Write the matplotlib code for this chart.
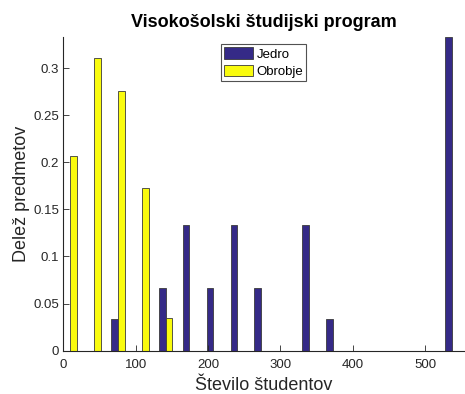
import matplotlib
matplotlib.use("Agg")
import matplotlib.pyplot as plt
import numpy as np

plt.rcParams['font.family'] = ['Liberation Sans', 'DejaVu Sans']

# Histogram bin centres (number of students) and shares of courses per bin
bin_centers = [9.6, 42.6, 75.6, 108.6, 141.6, 174.6, 207.6, 240.6, 273.6,
               306.6, 339.6, 372.6, 405.6, 438.6, 471.6, 504.6, 537.6]
jedro = [0, 0, 1/30, 0, 2/30, 4/30, 2/30, 4/30, 2/30,
         0, 4/30, 1/30, 0, 0, 0, 0, 10/30]
obrobje = [6/29, 9/29, 8/29, 5/29, 1/29, 0, 0, 0, 0,
           0, 0, 0, 0, 0, 0, 0, 0]
series_names = ["Jedro", "Obrobje"]
x_ticks = [0, 100, 200, 300, 400, 500]
y_ticks = [0, 0.05, 0.1, 0.15, 0.2, 0.25, 0.3]
y_tick_labels = ["0", "0.05", "0.1", "0.15", "0.2", "0.25", "0.3"]

blue = "#352A87"
yellow = "#F9FB0E"
edge = "#3a3a3a"
axis_col = "#262626"

fig = plt.figure(figsize=(4.65, 3.94), dpi=100)
ax = fig.add_axes([0.136, 0.110, 0.862, 0.797])

x = np.array(bin_centers)
bw = 9.2
off = 4.7
ax.bar(x - off, jedro, width=bw, color=blue, edgecolor=edge, linewidth=0.6,
       label=series_names[0])
ax.bar(x + off, obrobje, width=bw, color=yellow, edgecolor=edge, linewidth=0.6,
       label=series_names[1])

ax.set_xlim(0, 554)
ax.set_ylim(0, max(max(jedro), max(obrobje)))
ax.set_xticks(x_ticks)
ax.set_yticks(y_ticks)
ax.set_yticklabels(y_tick_labels)

for side in ("top", "right"):
    ax.spines[side].set_visible(False)
for side in ("left", "bottom"):
    ax.spines[side].set_color(axis_col)
    ax.spines[side].set_linewidth(0.8)
ax.tick_params(direction="in", length=4, width=0.6, colors=axis_col,
               labelsize=9.5)
ax.tick_params(axis="x", pad=6)
ax.tick_params(axis="y", pad=3)

ax.set_title("Visokošolski študijski program", fontsize=13, fontweight="bold",
             pad=7)
ax.set_xlabel("Število študentov", fontsize=13, color=axis_col, labelpad=4)
ax.set_ylabel("Delež predmetov", fontsize=13, color=axis_col, labelpad=2)

leg = ax.legend(loc="upper center", bbox_to_anchor=(0.5, 1.0), fontsize=9.5,
                frameon=True, fancybox=False, edgecolor=axis_col,
                handlelength=2.2, handleheight=1.0, handletextpad=0.25,
                borderpad=0.25, labelspacing=0.3, borderaxespad=0.55)
leg.get_frame().set_linewidth(0.8)

fig.savefig("out.png", dpi=100, facecolor="white")
